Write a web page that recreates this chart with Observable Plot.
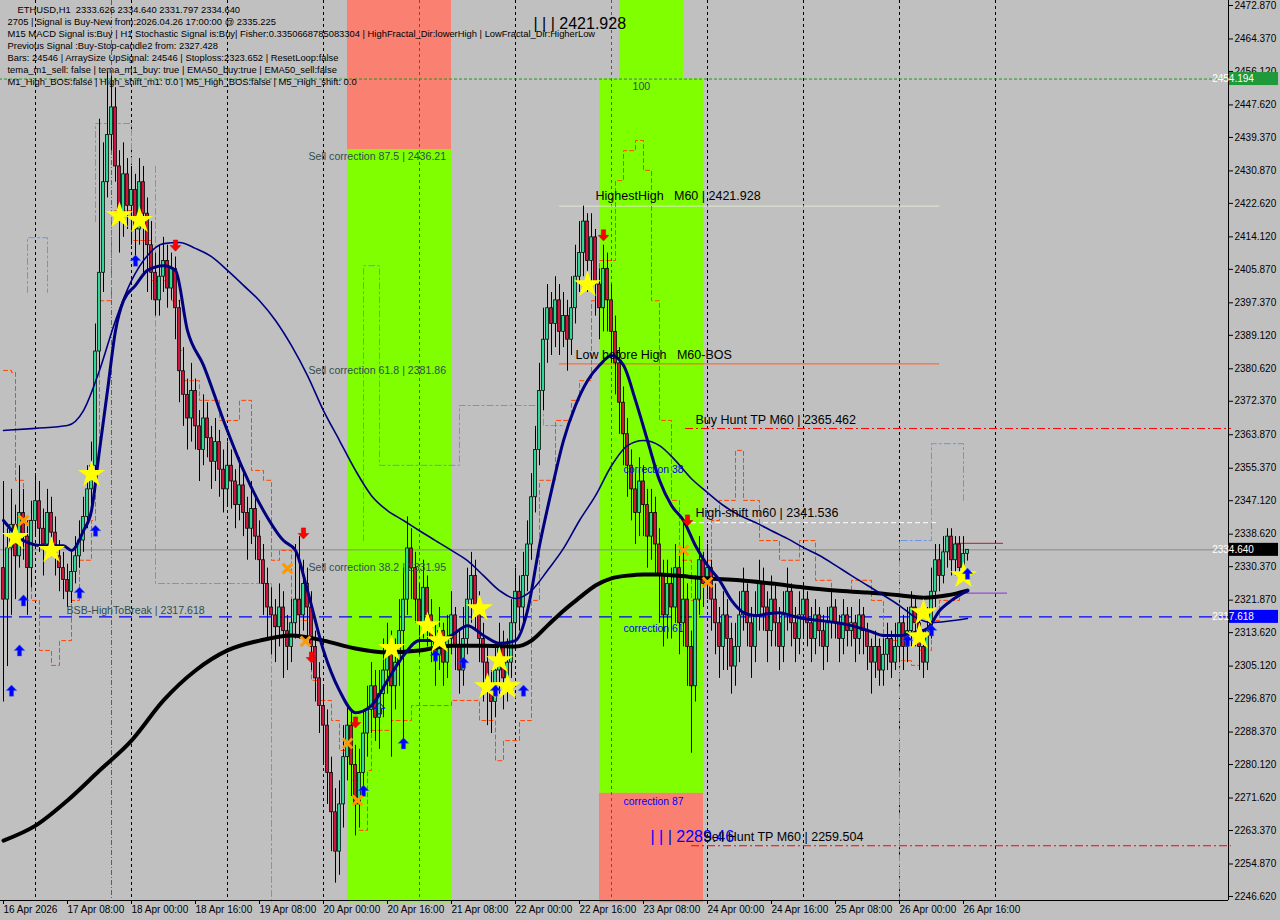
<!DOCTYPE html>
<html><head><meta charset="utf-8">
<script src="https://cdn.jsdelivr.net/npm/d3@7"></script>
<script src="https://cdn.jsdelivr.net/npm/@observablehq/plot@0.6"></script>
<style>
html,body{margin:0;padding:0;background:#c0c0c0;}
#chart{width:1280px;height:920px;overflow:hidden;}
</style></head><body><div id="chart"></div>
<script>
// ---------- DATA ----------
const firstBar = Date.UTC(2026, 3, 16, 16); // 16 Apr 2026 16:00, H1 bars
const HOUR = 3600e3;

const opens = [
2330,2322,2335,2341,2333,2344,2338,2330,2342,2347,
2340,2336,2344,2339,2333,2330,2327,2324,2329,2333,
2337,2343,2350,2356,2385,2405,2428,2440,2447,2432,
2418,2430,2422,2426,2416,2428,2420,2412,2405,2398,
2404,2408,2401,2406,2396,2380,2374,2368,2375,2366,
2360,2368,2363,2357,2362,2355,2350,2356,2352,2346,
2351,2344,2340,2345,2338,2332,2326,2320,2318,2315,
2320,2314,2310,2316,2322,2318,2326,2320,2310,2302,
2295,2290,2278,2268,2258,2270,2282,2290,2280,2270,
2278,2288,2294,2300,2292,2298,2304,2310,2300,2306,
2314,2322,2335,2330,2322,2316,2325,2318,2312,2308,
2314,2306,2312,2318,2310,2304,2312,2322,2328,2320,
2312,2306,2300,2296,2304,2310,2302,2306,2316,2324,
2320,2328,2336,2348,2360,2375,2388,2396,2392,2398,
2390,2394,2388,2396,2404,2410,2418,2408,2414,2402,
2396,2406,2398,2390,2382,2372,2364,2356,2350,2344,
2352,2346,2338,2344,2336,2328,2318,2326,2320,2330,
2316,2322,2310,2300,2322,2332,2326,2330,2322,2316,
2310,2318,2312,2305,2310,2318,2324,2316,2310,2318,
2326,2320,2314,2322,2316,2310,2318,2324,2316,2312,
2318,2322,2316,2312,2318,2314,2310,2316,2320,2316,
2312,2318,2314,2316,2312,2318,2314,2310,2306,2310,
2304,2308,2312,2306,2310,2316,2310,2314,2320,2316,
2310,2306,2314,2324,2332,2328,2334,2338,2332,2336,
2330,2333.626];
const highs = [
2352,2340,2350,2346,2356,2350,2342,2347,2354,2352,
2345,2350,2348,2343,2337,2334,2331,2334,2338,2342,
2348,2356,2362,2392,2444,2438,2456,2455,2452,2436,
2438,2434,2432,2430,2434,2432,2424,2418,2410,2412,
2414,2412,2410,2409,2398,2386,2378,2382,2378,2370,
2374,2372,2366,2368,2365,2360,2362,2360,2355,2358,
2354,2348,2352,2348,2342,2336,2330,2325,2322,2326,
2324,2318,2322,2336,2338,2332,2330,2324,2314,2306,
2300,2294,2282,2274,2276,2290,2295,2294,2285,2284,
2294,2300,2306,2304,2304,2312,2316,2314,2312,2322,
2330,2343,2340,2334,2326,2332,2328,2322,2316,2320,
2316,2318,2324,2320,2314,2320,2330,2334,2332,2324,
2316,2310,2304,2310,2316,2314,2312,2322,2330,2328,
2334,2342,2354,2366,2382,2396,2402,2400,2404,2402,
2400,2398,2404,2412,2418,2421.928,2420,2420,2416,2406,
2412,2410,2402,2394,2386,2376,2368,2360,2354,2358,
2356,2350,2350,2348,2340,2332,2332,2330,2336,2334,
2342,2326,2314,2328,2338,2334,2336,2332,2326,2320,
2324,2322,2316,2316,2324,2330,2326,2320,2324,2332,
2330,2324,2328,2326,2320,2324,2330,2326,2320,2324,
2326,2324,2320,2322,2320,2318,2320,2324,2322,2318,
2322,2320,2320,2318,2322,2320,2316,2312,2314,2312,
2312,2316,2314,2316,2320,2318,2320,2324,2322,2318,
2314,2320,2330,2336,2336,2338,2340,2340,2338,2338,
2338,2334.64];
const lows = [
2296,2305,2318,2322,2330,2332,2318,2325,2338,2334,
2328,2333,2334,2328,2324,2322,2320,2321,2326,2330,
2334,2340,2346,2350,2380,2400,2424,2436,2428,2410,
2414,2416,2412,2408,2412,2404,2400,2398,2394,2394,
2400,2396,2398,2388,2372,2366,2360,2362,2360,2352,
2356,2358,2350,2352,2348,2344,2346,2345,2340,2342,
2338,2332,2336,2332,2326,2318,2312,2308,2306,2310,
2302,2304,2306,2312,2312,2314,2312,2304,2296,2288,
2280,2270,2258,2250,2252,2264,2276,2272,2262,2264,
2272,2282,2288,2286,2284,2292,2298,2282,2294,2300,
2286,2318,2322,2316,2308,2312,2310,2306,2300,2304,
2300,2302,2308,2304,2298,2300,2308,2316,2314,2306,
2296,2290,2288,2292,2298,2294,2296,2302,2312,2314,
2316,2324,2332,2344,2356,2370,2382,2384,2386,2384,
2386,2380,2384,2392,2400,2404,2400,2402,2394,2388,
2390,2390,2382,2374,2364,2356,2348,2342,2336,2338,
2338,2330,2332,2328,2316,2310,2312,2312,2316,2308,
2310,2300,2283,2296,2318,2320,2322,2314,2308,2302,
2304,2304,2298,2300,2306,2314,2310,2302,2306,2314,
2314,2306,2310,2310,2304,2306,2314,2310,2306,2308,
2312,2310,2306,2308,2310,2304,2306,2312,2312,2306,
2308,2310,2310,2306,2308,2308,2304,2298,2302,2300,
2300,2304,2302,2304,2306,2304,2306,2310,2310,2304,
2302,2304,2312,2320,2324,2326,2330,2328,2328,2326,
2328,2331.797];
const closes = [
2322,2335,2341,2333,2344,2338,2330,2342,2347,2340,
2336,2344,2339,2333,2330,2327,2324,2329,2333,2337,
2343,2350,2356,2385,2405,2428,2440,2447,2432,2418,
2430,2422,2426,2416,2428,2420,2412,2405,2398,2404,
2408,2401,2406,2396,2380,2374,2368,2375,2366,2360,
2368,2363,2357,2362,2355,2350,2356,2352,2346,2351,
2344,2340,2345,2338,2332,2326,2320,2318,2315,2320,
2314,2310,2316,2322,2318,2326,2320,2310,2302,2295,
2290,2278,2268,2258,2270,2282,2290,2280,2270,2278,
2288,2294,2300,2292,2298,2304,2310,2300,2306,2314,
2322,2335,2330,2322,2316,2325,2318,2312,2308,2314,
2306,2312,2318,2310,2304,2312,2322,2328,2320,2312,
2306,2300,2296,2304,2310,2302,2306,2316,2324,2320,
2328,2336,2348,2360,2375,2388,2396,2392,2398,2390,
2394,2388,2396,2404,2410,2418,2408,2414,2402,2396,
2406,2398,2390,2382,2372,2364,2356,2350,2344,2352,
2346,2338,2344,2336,2328,2318,2326,2320,2330,2316,
2322,2310,2300,2322,2332,2326,2330,2322,2316,2310,
2318,2312,2305,2310,2318,2324,2316,2310,2318,2326,
2320,2314,2322,2316,2310,2318,2324,2316,2312,2318,
2322,2316,2312,2318,2314,2310,2316,2320,2316,2312,
2318,2314,2316,2312,2318,2314,2310,2306,2310,2304,
2308,2312,2306,2310,2316,2310,2314,2320,2316,2310,
2306,2314,2324,2332,2328,2334,2338,2332,2336,2330,
2333.626,2334.64];

// moving averages: [bar, price]
const emaFast = [[0,2342.1],[5,2337.0],[10,2335.7],[15,2335.7],[17,2334.5],[20,2339.5],[22,2344.6],[24,2359.9],[26,2375.1],[28,2390.3],[30,2397.9],[33,2401.8],[36,2405.6],[40,2406.8],[43,2405.6],[46,2390.3],[50,2381.5],[55,2367.5],[60,2354.8],[65,2344.6],[70,2337.0],[73,2334.5],[76,2324.3],[80,2309.1],[84,2298.9],[88,2293.3],[92,2295.1],[96,2301.5],[100,2307.8],[104,2311.6],[108,2311.6],[112,2312.9],[116,2315.4],[120,2312.9],[124,2310.9],[128,2311.6],[131,2319.2],[134,2335.7],[137,2349.7],[140,2362.4],[143,2371.3],[146,2377.6],[149,2381.5],[152,2384.0],[155,2381.5],[158,2372.6],[161,2362.4],[164,2352.3],[167,2345.9],[170,2342.1],[173,2335.7],[176,2330.7],[179,2326.9],[182,2321.8],[185,2318.7],[188,2317.9],[191,2318.4],[194,2318.7],[197,2317.9],[200,2317.2],[204,2316.7],[208,2316.2],[212,2315.4],[216,2314.2],[220,2312.9],[224,2312.9],[228,2313.7],[231,2314.7],[234,2319.2],[237,2321.8],[241,2324.3]];
const emaSlow = [[0,2364.95],[8,2365.5],[16,2366.2],[20,2370.0],[24,2380.2],[28,2392.9],[32,2403.0],[36,2409.4],[40,2412.4],[44,2412.7],[48,2411.2],[52,2409.1],[56,2405.6],[60,2401.8],[64,2397.9],[68,2392.9],[72,2386.5],[76,2378.9],[80,2370.0],[84,2362.4],[88,2354.8],[92,2348.4],[96,2344.6],[100,2342.1],[104,2339.5],[108,2337.0],[112,2334.5],[116,2331.9],[120,2328.1],[124,2324.3],[128,2322.3],[132,2324.3],[136,2329.4],[140,2335.0],[144,2342.1],[148,2348.4],[152,2356.0],[156,2361.1],[160,2362.4],[164,2361.1],[168,2357.3],[172,2352.7],[176,2349.2],[180,2345.9],[184,2343.4],[188,2341.6],[192,2339.5],[196,2337.5],[200,2335.2],[204,2333.2],[208,2330.7],[212,2328.1],[216,2325.6],[220,2323.1],[224,2320.5],[228,2317.5],[232,2316.2],[236,2316.5],[241,2317.2]];
const ema200 = [[0,2260.8],[8,2264.6],[16,2271.0],[24,2278.6],[32,2286.2],[40,2296.4],[48,2304.0],[56,2309.1],[64,2311.6],[72,2312.9],[80,2311.6],[88,2309.6],[96,2308.6],[104,2309.1],[112,2310.3],[120,2310.3],[128,2310.1],[132,2311.6],[136,2315.4],[140,2319.2],[144,2322.5],[148,2325.6],[152,2327.4],[156,2328.1],[160,2328.4],[164,2328.4],[168,2328.1],[176,2327.4],[184,2326.9],[192,2326.1],[200,2325.1],[208,2324.3],[216,2323.8],[224,2323.1],[230,2322.5],[236,2323.1],[241,2324.3]];
const fractalBand = [[0,2380.2],[2,2379.7],[3,2352.3],[5,2342.1],[7,2321.8],[9,2309.1],[12,2305.3],[14,2311.6],[17,2321.8],[19,2332.0],[22,2342.1],[23,2362.4],[24,2397.9],[27,2420.8],[32,2413.2],[37,2403.0],[42,2397.9],[44,2385.3],[45,2377.6],[49,2372.6],[54,2367.5],[59,2372.6],[62,2354.8],[65,2352.3],[67,2332.0],[69,2334.5],[72,2321.8],[74,2316.7],[77,2301.5],[79,2296.4],[82,2291.3],[84,2283.7],[87,2276.1],[89,2263.4],[91,2278.6],[92,2288.8],[97,2291.3],[102,2295.1],[107,2295.1],[112,2296.4],[117,2296.4],[119,2291.3],[123,2281.1],[125,2286.2],[129,2291.3],[132,2321.8],[134,2352.3],[138,2367.5],[142,2372.6],[144,2377.6],[147,2397.9],[149,2408.1],[153,2428.4],[155,2436.0],[158,2438.6],[160,2431.0],[162,2397.9],[164,2367.5],[167,2347.2],[169,2332.0],[172,2321.8],[174,2332.0],[177,2342.1],[179,2347.2],[183,2359.9],[185,2347.2],[189,2337.0],[194,2332.0],[199,2337.0],[203,2326.9],[207,2324.3],[212,2326.9],[217,2321.8],[220,2311.6],[224,2306.5],[227,2305.3],[229,2309.1],[232,2316.7],[234,2321.8],[239,2323.1]];
// stepped channel line: [segment, bar, price]
const stepLine = [
 [1,6,2400],[1,6,2413.9],[1,11,2413.9],[1,11,2400],
 [2,23,2418],[2,23,2442.9],[2,32,2442.9],[2,32,2418],
 [3,38,2432],[3,38,2326.1],[3,67,2326.1],[3,67,2245],
 [4,90,2337],[4,90,2406.8],[4,94,2406.8],[4,94,2356.1],[4,114,2356.1],[4,114,2371.3],[4,135,2371.3],[4,135,2366.2],[4,140,2366.2],
 [5,224,2245],[5,224,2337],[5,232,2337],[5,232,2361.6],[5,240,2361.6],[5,240,2347.2]];

// signal markers: [bar, price]
const stars = [[3,2337.8],[12,2334.5],[22,2353.8],[29,2419.5],[34,2418.3],[97,2309.6],[106,2315.4],[109,2311.6],[119,2319.7],[121,2299.9],[124,2306.5],[126,2299.9],[146,2402.0],[229,2312.6],[230,2318.7],[240,2328.1]];
const buyArrows = [[2,2298.9],[5,2321.8],[4,2309.1],[19,2323.8],[23,2339.5],[33,2408.1],[90,2273.5],[100,2285.5],[108,2307.8],[115,2306.0],[123,2298.9],[130,2298.9],[226,2311.6],[232,2314.2],[241,2328.6]];
const buyArrowsHollow = [[94,2294.4]];
const sellArrows = [[43,2411.9],[75,2338.8],[77,2307.3],[88,2290.8],[150,2414.5],[171,2342.1]];
const crosses = [[5,2342.1],[71,2329.9],[75.5,2311.4],[86,2285.5],[88.5,2271.0],[170,2334.5],[176,2326.4]];

// zones: [fromBar, toBar, priceLow, priceHigh, kind]
const zones = [[86,112,2436.21,2474.2,"sell"],[86,112,2245,2436.21,"corr"],[154,170,2454.194,2474.2,"corr"],[149,175,2272.8,2454.194,"corr"],[149,175,2245,2272.8,"sell"]];

// horizontal levels: [price, fromBar, toBar, kind]
const levels = [
  [2454.194,-1,307,"green"],[2317.618,-1,307,"blue"],[2334.640,-1,307,"bid"],
  [2365.462,170.5,307,"tp"],[2259.504,172,307,"tp"],
  [2421.928,139,234,"hh"],[2381.86,139,234,"lbh"],[2341.536,172,234,"shift"],
  [2336.3,238,250,"entry"],[2323.652,238,251,"stop"]];

const separators = [8,32,56,80,104,128,152,176,200,224,248];
const specialVLines = [27];

const labels = [
  ["| | | 2421.928",132.5,2468.3,"big"],
  ["| | | 2289.46",161.75,2261.8,"bigblue"],
  ["HighestHigh   M60 | 2421.928",148,2424.4,"mid"],
  ["Low before High   M60-BOS",143,2384.2,"mid"],
  ["Buy Hunt TP M60 | 2365.462",173,2367.7,"mid"],
  ["High-shift m60 | 2341.536",173,2343.9,"mid"],
  ["Sell Hunt TP M60 | 2259.504",175,2261.8,"mid"],
  ["Sell correction 87.5 | 2436.21",76.25,2434.5,"slate"],
  ["Sell correction 61.8 | 2381.86",76.25,2380.2,"slate"],
  ["Sell correction 38.2 | 2331.95",76.25,2330.2,"slate"],
  ["BSB-HighToBreak | 2317.618",15.75,2319.2,"slate"],
  ["100",157.25,2452.3,"slate"],
  ["correction 38",155,2355.0,"corrblue"],
  ["correction 61",155,2314.7,"corrblue"],
  ["correction 87",155,2270.7,"corrblue"]];

const infoLines = [
  "ETHUSD,H1  2333.626 2334.640 2331.797 2334.640",
  "2705 | Signal is Buy-New from:2026.04.26 17:00:00 @ 2335.225",
  "M15 MACD Signal is:Buy | H1 Stochastic Signal is:Buy| Fisher:0.3350668785083304 | HighFractal_Dir:lowerHigh | LowFractal_Dir:HigherLow",
  "Previous Signal :Buy-Stop-candle2 from: 2327.428",
  "Bars: 24546 | ArraySize UpSignal: 24546 | Stoploss:2323.652 | ResetLoop:false",
  "tema_m1_sell: false | tema_m1_buy: true | EMA50_buy:true | EMA50_sell:false",
  "M1_High_BOS:false | High_shift_m1: 0.0 | M5_High_BOS:false | M5_High_shift: 0.0"];

const yTicks = [2472.870,2464.370,2456.120,2447.620,2439.370,2430.870,2422.620,2414.120,2405.870,2397.370,2389.120,2380.620,2372.370,2363.870,2355.370,2347.120,2338.620,2330.370,2321.870,2313.620,2305.120,2296.870,2288.370,2280.120,2271.620,2263.370,2254.870,2246.620];
const xTickBars = [0,16,32,48,64,80,96,112,128,144,160,176,192,208,224,240];
const xTickLabels = ["16 Apr 2026","17 Apr 08:00","18 Apr 00:00","18 Apr 16:00","19 Apr 08:00","20 Apr 00:00","20 Apr 16:00","21 Apr 08:00","22 Apr 00:00","22 Apr 16:00","23 Apr 08:00","24 Apr 00:00","24 Apr 16:00","25 Apr 08:00","26 Apr 00:00","26 Apr 16:00"];
const priceTags = [[2454.194,"#1e9a3a"],[2334.640,"#000000"],[2317.618,"#0000ff"]];

// ---------- BUILD ----------
const T = b => new Date(firstBar + b * HOUR);
const candles = closes.map((c, i) => ({t: T(i), o: opens[i], h: highs[i], l: lows[i], c, up: c >= opens[i]}));
const pts = a => a.map(([b, p]) => ({t: T(b), p}));
const xLab = new Map(xTickBars.map((b, k) => [+T(b), xTickLabels[k]]));
const FONT = "'Liberation Sans', Arial, sans-serif";

const zoneColor = {sell: "#fa8072", corr: "#7fff00"};
const levelStyle = {
  green: {stroke: "#199919", dash: "3,2", w: 1},
  blue: {stroke: "#0000ff", dash: "13,7", w: 1.2},
  bid: {stroke: "#8a8a8a", dash: null, w: 1},
  tp: {stroke: "#ff0000", dash: "8,3,2,3", w: 1},
  hh: {stroke: "#dfe8cf", dash: null, w: 1},
  lbh: {stroke: "#ff5a28", dash: null, w: 1},
  shift: {stroke: "#ffffff", dash: "5,3", w: 1},
  entry: {stroke: "#c8102e", dash: null, w: 1},
  stop: {stroke: "#8a2be2", dash: null, w: 1}};
const labelStyle = {
  big: {size: 16, fill: "#000"}, bigblue: {size: 16, fill: "#0000ff"},
  mid: {size: 12.5, fill: "#000"}, slate: {size: 10.6, fill: "#2f4f4f"},
  corrblue: {size: 10.4, fill: "#0000ff"}};

const arrowUp = {draw(ctx, size) { const s = Math.sqrt(size) / 2;
  ctx.moveTo(0, -s); ctx.lineTo(s * 0.95, 0); ctx.lineTo(s * 0.38, 0); ctx.lineTo(s * 0.38, s);
  ctx.lineTo(-s * 0.38, s); ctx.lineTo(-s * 0.38, 0); ctx.lineTo(-s * 0.95, 0); ctx.closePath(); }};
const arrowDown = {draw(ctx, size) { const s = Math.sqrt(size) / 2;
  ctx.moveTo(0, s); ctx.lineTo(s * 0.95, 0); ctx.lineTo(s * 0.38, 0); ctx.lineTo(s * 0.38, -s);
  ctx.lineTo(-s * 0.38, -s); ctx.lineTo(-s * 0.38, 0); ctx.lineTo(-s * 0.95, 0); ctx.closePath(); }};

const marks = [];
marks.push(Plot.rect(zones, {x1: d => T(d[0]), x2: d => T(d[1]), y1: d => d[2], y2: d => d[3], fill: d => zoneColor[d[4]]}));
marks.push(Plot.ruleX(separators, {x: b => T(b), stroke: b => (b === 104 || b === 152) ? "#6a3fb5" : "#000", strokeDasharray: "3,3", strokeWidth: 1}));
marks.push(Plot.ruleX(specialVLines, {x: b => T(b), stroke: "#c0209a", strokeDasharray: "5,2,1,2", strokeWidth: 1}));
for (const k of Object.keys(levelStyle)) {
  const st = levelStyle[k];
  marks.push(Plot.ruleY(levels.filter(d => d[3] === k), {y: d => d[0], x1: d => T(d[1]), x2: d => T(d[2]), stroke: st.stroke, strokeWidth: st.w, strokeDasharray: st.dash}));
}
marks.push(Plot.line(stepLine, {x: d => T(d[1]), y: d => d[2], z: d => d[0], stroke: "#6495ed", strokeWidth: 1, strokeDasharray: "6,3,2,3"}));
marks.push(Plot.line(pts(fractalBand), {x: "t", y: "p", stroke: "#ff4500", strokeWidth: 1, strokeDasharray: "4,3", curve: "step-after"}));
marks.push(Plot.ruleX(candles, {x: "t", y1: "l", y2: "h", stroke: "#000", strokeWidth: 1}));
marks.push(Plot.rect(candles, {x1: d => new Date(+d.t - 0.34 * HOUR), x2: d => new Date(+d.t + 0.34 * HOUR), y1: "o", y2: "c", fill: d => d.up ? "#2fe39b" : "#dc143c", stroke: "#000", strokeWidth: 0.8}));
marks.push(Plot.line(pts(ema200), {x: "t", y: "p", stroke: "#000", strokeWidth: 4, curve: "monotone-x"}));
marks.push(Plot.line(pts(emaSlow), {x: "t", y: "p", stroke: "#000080", strokeWidth: 1.6, curve: "monotone-x"}));
marks.push(Plot.line(pts(emaFast), {x: "t", y: "p", stroke: "#000080", strokeWidth: 3, curve: "monotone-x"}));
marks.push(Plot.dot(pts(stars), {x: "t", y: "p", symbol: "star", r: 8.5, fill: "#ffff00", stroke: "none"}));
marks.push(Plot.dot(pts(buyArrows), {x: "t", y: "p", symbol: arrowUp, r: 6.3, fill: "#0000ff", stroke: "#4169e1", strokeWidth: 0.5}));
marks.push(Plot.dot(pts(buyArrowsHollow), {x: "t", y: "p", symbol: arrowUp, r: 6.3, fill: "none", stroke: "#0000ff", strokeWidth: 1}));
marks.push(Plot.dot(pts(sellArrows), {x: "t", y: "p", symbol: arrowDown, r: 6.3, fill: "#ff0000", stroke: "#c00000", strokeWidth: 0.5}));
marks.push(Plot.dot(pts(crosses), {x: "t", y: "p", symbol: "times", r: 4.5, stroke: "#ff9900", strokeWidth: 3}));
for (const k of Object.keys(labelStyle)) {
  const st = labelStyle[k];
  marks.push(Plot.text(labels.filter(d => d[3] === k), {x: d => T(d[1]), y: d => d[2], text: d => d[0], textAnchor: "start", fontSize: st.size, fill: st.fill}));
}
infoLines.forEach((s, k) => marks.push(Plot.text([s], {frameAnchor: "top-left", dx: k === 0 ? 17 : 7, dy: 5.5 + k * 12.1, lineAnchor: "top", fontSize: 9.4, fill: "#000"})));
marks.push(Plot.ruleX([T(306.25)], {stroke: "#000", strokeWidth: 1}));
marks.push(Plot.ruleY([2245.6], {stroke: "#000", strokeWidth: 1}));
marks.push(Plot.axisY(yTicks, {anchor: "right", label: null, tickSize: 4, tickPadding: 2, tickFormat: d => d.toFixed(3), fontSize: 10, stroke: "#000", fill: "#000"}));
marks.push(Plot.axisX(xTickBars.map(T), {anchor: "bottom", label: null, tickSize: 4, tickPadding: 1, textAnchor: "start", tickFormat: d => xLab.get(+d), fontSize: 10, stroke: "#000", fill: "#000"}));

const chart = Plot.plot({
  width: 1280, height: 920,
  marginLeft: 0, marginRight: 52, marginTop: 0, marginBottom: 20,
  style: {background: "#c0c0c0", fontFamily: FONT, color: "#000"},
  x: {type: "utc", domain: [T(-0.75), T(306.25)], label: null},
  y: {domain: [2245.6, 2474.14], label: null},
  marks
});
document.getElementById("chart").appendChild(chart);

// price tags on the right axis (positioned with Plot's y scale)
const ys = chart.scale("y");
const svg = d3.select(chart);
for (const [p, col] of priceTags) {
  const yy = ys.apply(p);
  const g = svg.append("g");
  g.append("rect").attr("x", 1229).attr("y", yy - 6.5).attr("width", 49).attr("height", 13).attr("fill", col);
  g.append("text").attr("x", 1233).attr("y", yy).attr("dy", "0.35em").attr("fill", "#fff").attr("font-size", 10).attr("font-family", FONT).text(p.toFixed(3));
}
</script></body></html>
